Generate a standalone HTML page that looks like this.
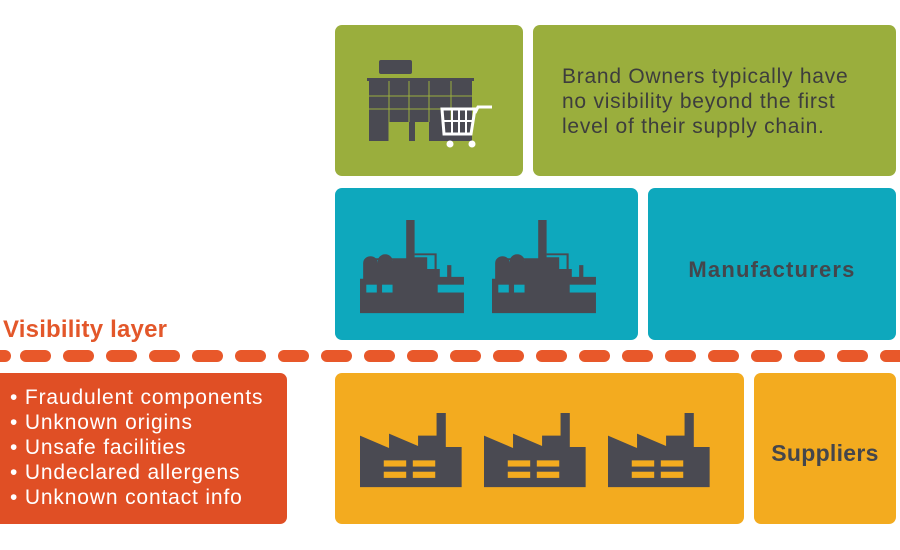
<!DOCTYPE html>
<html><head><meta charset="utf-8"><style>
body{margin:0;width:900px;height:550px;background:#fff;position:relative;overflow:hidden;font-family:"Liberation Sans",sans-serif}
.b{position:absolute;border-radius:7px}
</style></head><body>
<div class="b" style="left:335px;top:25px;width:188px;height:151px;background:#9aae3d"></div>
<div class="b" style="left:533px;top:25px;width:363px;height:151px;background:#9aae3d"></div>
<div class="b" style="left:335px;top:188px;width:303px;height:152px;background:#0ea8bd"></div>
<div class="b" style="left:648px;top:188px;width:248px;height:152px;background:#0ea8bd"></div>
<div class="b" style="left:0;top:373px;width:287px;height:151px;background:#e04f25;border-radius:0 7px 7px 0"></div>
<div class="b" style="left:335px;top:373px;width:409px;height:151px;background:#f3ab1f"></div>
<div class="b" style="left:754px;top:373px;width:142px;height:151px;background:#f3ab1f"></div>

<div style="position:absolute;left:562px;top:64px;font-size:21px;letter-spacing:0.75px;line-height:25px;color:#3d3d3d;white-space:nowrap">Brand Owners typically have<br>no visibility beyond the first<br>level of their supply chain.</div>
<div style="position:absolute;left:648px;top:257px;width:248px;text-align:center;font-size:22px;letter-spacing:1.2px;font-weight:bold;color:#44464c">Manufacturers</div>
<div style="position:absolute;left:754px;top:440px;width:142px;text-align:center;font-size:23px;letter-spacing:0.3px;font-weight:bold;color:#44464c">Suppliers</div>
<div style="position:absolute;left:3px;top:316px;font-size:24px;letter-spacing:0.2px;font-weight:bold;color:#e3572a">Visibility layer</div>
<div style="position:absolute;left:10px;top:385px;font-size:21px;letter-spacing:0.85px;line-height:25px;color:#fff;white-space:nowrap">•&nbsp;Fraudulent components<br>•&nbsp;Unknown origins<br>•&nbsp;Unsafe facilities<br>•&nbsp;Undeclared allergens<br>•&nbsp;Unknown contact info</div>

<svg width="900" height="550" style="position:absolute;left:0;top:0">
<g fill="#4a4a52">
<rect x="379" y="60" width="33" height="14" rx="2"/>
<rect x="367" y="78" width="107" height="3"/>
<rect x="369" y="81" width="103" height="41"/>
<rect x="369" y="122" width="20" height="19"/>
<rect x="409" y="115" width="6" height="26"/>
<rect x="429" y="115" width="43" height="26"/>
</g>
<g stroke="#9aae3d" stroke-width="1">
<line x1="369" y1="96" x2="472" y2="96"/><line x1="369" y1="109" x2="472" y2="109"/>
<line x1="389" y1="81" x2="389" y2="141"/><line x1="409" y1="81" x2="409" y2="122"/><line x1="429" y1="81" x2="429" y2="122"/><line x1="451" y1="81" x2="451" y2="122"/>
</g>
<g stroke="#fff" stroke-width="3" fill="none">
<path d="M442 109 h33 l-4 25 h-27 z"/><path d="M475 113 l3 -6 h14"/>
</g>
<g stroke="#fff" stroke-width="2"><line x1="452" y1="110" x2="452" y2="133"/><line x1="459" y1="110" x2="459" y2="133"/><line x1="466" y1="110" x2="466" y2="133"/><line x1="444" y1="121" x2="473" y2="121"/></g>
<circle cx="450" cy="144" r="3.5" fill="#fff"/><circle cx="472" cy="144" r="3.5" fill="#fff"/>
<defs>
<g id="mf">
<path fill="#4a4a52" d="M0 70 V60 h3 V44 a7 7 0 0 1 14 0 V42 a7 7 0 0 1 14 0 V40 h13 V0 h8 V38 h12 V50 h12 V58 h7 V46 h4 V58 h12 V95 H0 z"/>
<path fill="none" stroke="#4a4a52" stroke-width="2" d="M10 40 h40 M52 35 h20 v15"/>
<rect x="6" y="66" width="10" height="8" fill="#0ea8bd"/><rect x="21" y="66" width="10" height="8" fill="#0ea8bd"/><rect x="74" y="66" width="34" height="8" fill="#0ea8bd"/>
</g>
<g id="sf">
<path fill="#4a4a52" d="M0 72 V22 L22 34 V20 L44 32 V22 h14 V0 h7 V33 h12 V72 z"/>
<rect x="18" y="46" width="17" height="6" fill="#f3ab1f"/><rect x="40" y="46" width="17" height="6" fill="#f3ab1f"/>
<rect x="18" y="57" width="17" height="6" fill="#f3ab1f"/><rect x="40" y="57" width="17" height="6" fill="#f3ab1f"/>
</g>
</defs>
<g transform="translate(360 220) scale(1.05 0.98)"><use href="#mf"/></g>
<g transform="translate(492 220) scale(1.05 0.98)"><use href="#mf"/></g>
<g transform="translate(360 413) scale(1.32 1.03)"><use href="#sf"/></g>
<g transform="translate(484 413) scale(1.32 1.03)"><use href="#sf"/></g>
<g transform="translate(608 413) scale(1.32 1.03)"><use href="#sf"/></g>
<g fill="#e8582a">
<rect x="-10" y="350" width="21" height="12" rx="6"/>
<rect x="20" y="350" width="31" height="12" rx="6"/><rect x="63" y="350" width="31" height="12" rx="6"/><rect x="106" y="350" width="31" height="12" rx="6"/><rect x="149" y="350" width="31" height="12" rx="6"/><rect x="192" y="350" width="31" height="12" rx="6"/><rect x="235" y="350" width="31" height="12" rx="6"/><rect x="278" y="350" width="31" height="12" rx="6"/><rect x="321" y="350" width="31" height="12" rx="6"/><rect x="364" y="350" width="31" height="12" rx="6"/><rect x="407" y="350" width="31" height="12" rx="6"/><rect x="450" y="350" width="31" height="12" rx="6"/><rect x="493" y="350" width="31" height="12" rx="6"/><rect x="536" y="350" width="31" height="12" rx="6"/><rect x="579" y="350" width="31" height="12" rx="6"/><rect x="622" y="350" width="31" height="12" rx="6"/><rect x="665" y="350" width="31" height="12" rx="6"/><rect x="708" y="350" width="31" height="12" rx="6"/><rect x="751" y="350" width="31" height="12" rx="6"/><rect x="794" y="350" width="31" height="12" rx="6"/><rect x="837" y="350" width="31" height="12" rx="6"/><rect x="880" y="350" width="31" height="12" rx="6"/>
</g>
</svg>
</body></html>
